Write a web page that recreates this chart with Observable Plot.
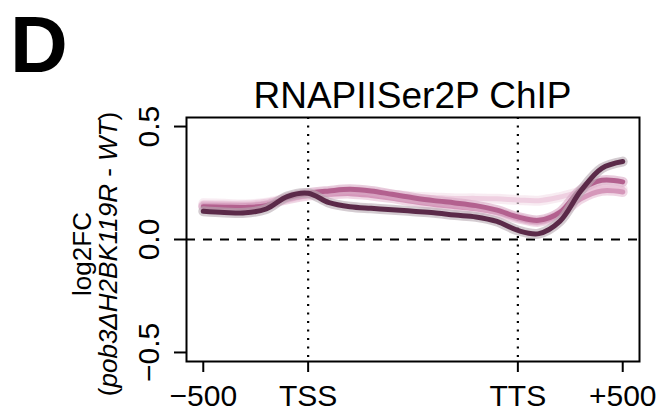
<!DOCTYPE html>
<html>
<head>
<meta charset="utf-8">
<script src="https://cdn.jsdelivr.net/npm/d3@7"></script>
<script src="https://cdn.jsdelivr.net/npm/@observablehq/plot@0.6"></script>
<style>
  html, body { margin: 0; padding: 0; background: #fff; }
  #chart svg { display: block; }
</style>
</head>
<body>
<div id="chart"></div>
<script>
// ---- data ----
const positions = [-500, -400, -300, -200, -100, 0, 100, 200, 300, 400, 500, 600, 700, 800, 900, 1000, 1100, 1200, 1300, 1400, 1500];
const seriesNames = ["s1", "s2", "s3", "s4"];
const s1 = [0.125, 0.120, 0.118, 0.135, 0.190, 0.205, 0.163, 0.145, 0.138, 0.132, 0.125, 0.118, 0.108, 0.100, 0.080, 0.040, 0.026, 0.080, 0.215, 0.315, 0.345];
const s2 = [0.145, 0.143, 0.142, 0.150, 0.185, 0.205, 0.215, 0.222, 0.215, 0.200, 0.185, 0.172, 0.162, 0.150, 0.130, 0.100, 0.085, 0.120, 0.220, 0.262, 0.255];
const s3 = [0.150, 0.150, 0.150, 0.158, 0.178, 0.195, 0.200, 0.203, 0.195, 0.183, 0.168, 0.155, 0.145, 0.136, 0.120, 0.094, 0.078, 0.110, 0.180, 0.215, 0.210];
const s4 = [0.160, 0.158, 0.155, 0.163, 0.183, 0.200, 0.210, 0.214, 0.208, 0.198, 0.190, 0.186, 0.182, 0.182, 0.180, 0.175, 0.172, 0.188, 0.212, 0.232, 0.225];
const seriesValues = [s1, s2, s3, s4];
const seriesColors = ["#5b2a49", "#b3618f", "#d597ba", "#efd0e1"];
const haloColors = ["#b8aab3", "#d9a9c4", "#e6bdd3", "#f4e0ea"];

const xTickValues = [-500, 0, 1000, 1500];
const xTickLabels = ["\u2212500", "TSS", "TTS", "+500"];
const yTickValues = [-0.5, 0, 0.5];
const yTickLabels = ["\u22120.5", "0.0", "0.5"];
const markerPositions = [0, 1000];
const zeroLine = [0];

const titleText = "RNAPIISer2P ChIP";
const panelLetter = "D";

// ---- build table ----
const table = [];
seriesNames.forEach((name, i) => {
  positions.forEach((x, j) => table.push({series: name, x, y: seriesValues[i][j]}));
});

const font = '"Liberation Sans", Arial, Helvetica, sans-serif';

// draw lightest first, darkest last
const lineMarks = [];
[3, 2, 1, 0].forEach(i => {
  const d = table.filter(r => r.series === seriesNames[i]);
  lineMarks.push(Plot.line(d, {x: "x", y: "y", stroke: haloColors[i], strokeOpacity: 0.6, strokeWidth: 10, curve: "catmull-rom"}));
  lineMarks.push(Plot.line(d, {x: "x", y: "y", stroke: seriesColors[i], strokeWidth: 5, curve: "catmull-rom"}));
});

const plot = Plot.plot({
  width: 661,
  height: 416,
  marginLeft: 186,
  marginRight: 22,
  marginTop: 117,
  marginBottom: 55,
  x: {domain: [-580, 1580]},
  y: {domain: [-0.54, 0.54]},
  style: {fontFamily: font, background: "#fff", color: "#000"},
  marks: [
    Plot.ruleX(markerPositions, {stroke: "#000", strokeWidth: 2.2, strokeDasharray: "2,6.5"}),
    Plot.ruleY(zeroLine, {stroke: "#000", strokeWidth: 2, strokeDasharray: "9,8"}),
    ...lineMarks,
    Plot.frame({stroke: "#000", strokeWidth: 2}),
    Plot.axisX(xTickValues, {
      tickFormat: d => xTickLabels[xTickValues.indexOf(d)],
      tickSize: 11, tickPadding: 12, fontSize: 30, strokeWidth: 2, label: null
    }),
    Plot.axisY(yTickValues, {tickSize: 12, strokeWidth: 2, tickFormat: () => "", label: null}),
    Plot.text(yTickValues, {
      y: d => d, text: (d, i) => yTickLabels[i], frameAnchor: "left",
      rotate: -90, dx: -28, textAnchor: "middle", lineAnchor: "bottom", fontSize: 30
    })
  ]
});

document.getElementById("chart").appendChild(plot);

// ---- annotations (title, panel letter, y-axis label) ----
const svg = d3.select(plot);
svg.append("text")
  .attr("x", 10).attr("y", 72)
  .attr("text-anchor", "start")
  .attr("font-family", font).attr("font-weight", "bold").attr("font-size", 80)
  .text(panelLetter);

svg.append("text")
  .attr("x", (186 + 639) / 2).attr("y", 108)
  .attr("text-anchor", "middle")
  .attr("font-family", font).attr("font-size", 37)
  .text(titleText);

const ylab = svg.append("g")
  .attr("transform", "translate(0,254) rotate(-90)")
  .attr("font-family", font).attr("font-size", 26)
  .attr("text-anchor", "middle");
ylab.append("text").attr("x", 0).attr("y", 91).text("log2FC");
const l2 = ylab.append("text").attr("x", 0).attr("y", 117);
l2.append("tspan").text("(");
l2.append("tspan").attr("font-style", "italic").text("pob3\u0394H2BK119R");
l2.append("tspan").text(" - ");
l2.append("tspan").attr("font-style", "italic").text("WT");
l2.append("tspan").text(")");
</script>
</body>
</html>
